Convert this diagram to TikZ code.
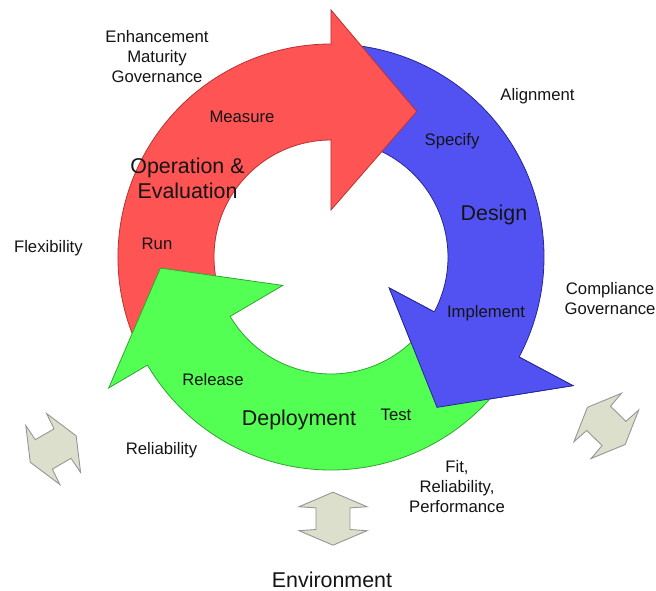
\documentclass[tikz,border=0pt]{standalone}
\usepackage{fontspec}
\setmainfont{Liberation Sans}
\definecolor{redfill}{RGB}{255,84,84}
\definecolor{redline}{RGB}{185,50,50}
\definecolor{bluefill}{RGB}{82,82,242}
\definecolor{blueline}{RGB}{38,38,150}
\definecolor{greenfill}{RGB}{84,255,84}
\definecolor{greenline}{RGB}{48,165,48}
\definecolor{envfill}{RGB}{221,223,205}
\definecolor{envline}{RGB}{150,150,150}
\definecolor{labelink}{RGB}{20,20,20}
\begin{document}
\begin{tikzpicture}[x=1pt,y=1pt,
  small/.style={font=\fontsize{16.7}{20}\selectfont, inner sep=0pt, align=center, text=labelink},
  big/.style={font=\fontsize{21.4}{25}\selectfont, inner sep=0pt, align=center, text=labelink},
  cycarrow/.style={line width=0.8pt, line join=miter},
  redarrow/.style={cycarrow, fill=redfill, draw=redline},
  bluearrow/.style={cycarrow, fill=bluefill, draw=blueline},
  greenarrow/.style={cycarrow, fill=greenfill, draw=greenline},
  envarrow/.style={fill=envfill, draw=envline, line width=0.9pt, line join=miter}]
\useasboundingbox (-331,-333) rectangle (325,257);

% Cycle: inner radius 117, outer radius 213, centred on the origin
% Design (blue): Specify -> Implement
\path[bluearrow] (88:213) arc[start angle=88, end angle=-28, radius=213]
  -- (-28:274) -- (-54.8:184) -- (-28:66) -- (-28:117)
  arc[start angle=-28, end angle=88, radius=117] -- cycle;
% Operation & Evaluation (red): Run -> Measure
\path[redarrow] (206:213) arc[start angle=206, end angle=90, radius=213]
  -- (90:247) -- (59.5:169) -- (90:47) -- (90:117)
  arc[start angle=90, end angle=206, radius=117] -- cycle;
% Deployment (green): Test -> Release
\path[greenarrow] (325:213) arc[start angle=325, end angle=210.5, radius=213]
  -- (210.5:258) -- (183.7:171) -- (210.5:56) -- (210.5:117)
  arc[start angle=210.5, end angle=325, radius=117] -- cycle;
% the Design head lies over the tail of Deployment
\fill[bluefill] (-28:274) -- (-54.8:184) -- (-28:66) -- cycle;
\draw[cycarrow, blueline] (-28:117) -- (-28:66) -- (-54.8:184) -- (-28:274) -- (-28:213);

% Environment exchange arrows
\begin{scope}[shift={(2,-261.7)}, rotate=90]
  \draw[envarrow] (26.5,0) -- (12,34) -- (10.8,17) -- (-10.8,17) -- (-12,34) -- (-26.5,0)
    -- (-12,-34) -- (-10.8,-17) -- (10.8,-17) -- (12,-34) -- cycle;
\end{scope}
\begin{scope}[shift={(-277.8,-192)}, rotate=30]
  \draw[envarrow] (26.5,0) -- (12,34) -- (10.8,17) -- (-10.8,17) -- (-12,34) -- (-26.5,0)
    -- (-12,-34) -- (-10.8,-17) -- (10.8,-17) -- (12,-34) -- cycle;
\end{scope}
\begin{scope}[shift={(275.3,-168.9)}, rotate=-44.5]
  \draw[envarrow] (26.5,0) -- (12,34) -- (10.8,17) -- (-10.8,17) -- (-12,34) -- (-26.5,0)
    -- (-12,-34) -- (-10.8,-17) -- (10.8,-17) -- (12,-34) -- cycle;
\end{scope}

% Labels, placed in page coordinates (y downwards from the top-left corner)
\begin{scope}[shift={(-331,257)}, yscale=-1]
  \node[small, anchor=north] (enh) at (157,30) {Enhancement\\Maturity\\Governance};
  \node[small, anchor=base] (measure) at (242,122) {Measure};
  \node[big, anchor=north] (opeval) at (187.5,157.7) {Operation \&\\Evaluation};
  \node[small, anchor=base] (run) at (157,249) {Run};
  \node[small, anchor=base] (specify) at (452,145.3) {Specify};
  \node[big, anchor=base] (design) at (494,220) {Design};
  \node[small, anchor=base] (implement) at (486,317) {Implement};
  \node[small, anchor=base] (alignment) at (537.5,100) {Alignment};
  \node[small, anchor=north] (compliance) at (610,282) {Compliance\\Governance};
  \node[small, anchor=base] (flexibility) at (48.4,252.5) {Flexibility};
  \node[small, anchor=base] (release) at (213,385) {Release};
  \node[big, anchor=base] (deployment) at (299,425) {Deployment};
  \node[small, anchor=base] (test) at (396,420) {Test};
  \node[small, anchor=base] (reliability) at (161.5,454) {Reliability};
  \node[small, anchor=north] (fit) at (457,460) {Fit,\\Reliability,\\Performance};
  \node[big, anchor=base] (environment) at (332,587) {Environment};
\end{scope}
\end{tikzpicture}
\end{document}
